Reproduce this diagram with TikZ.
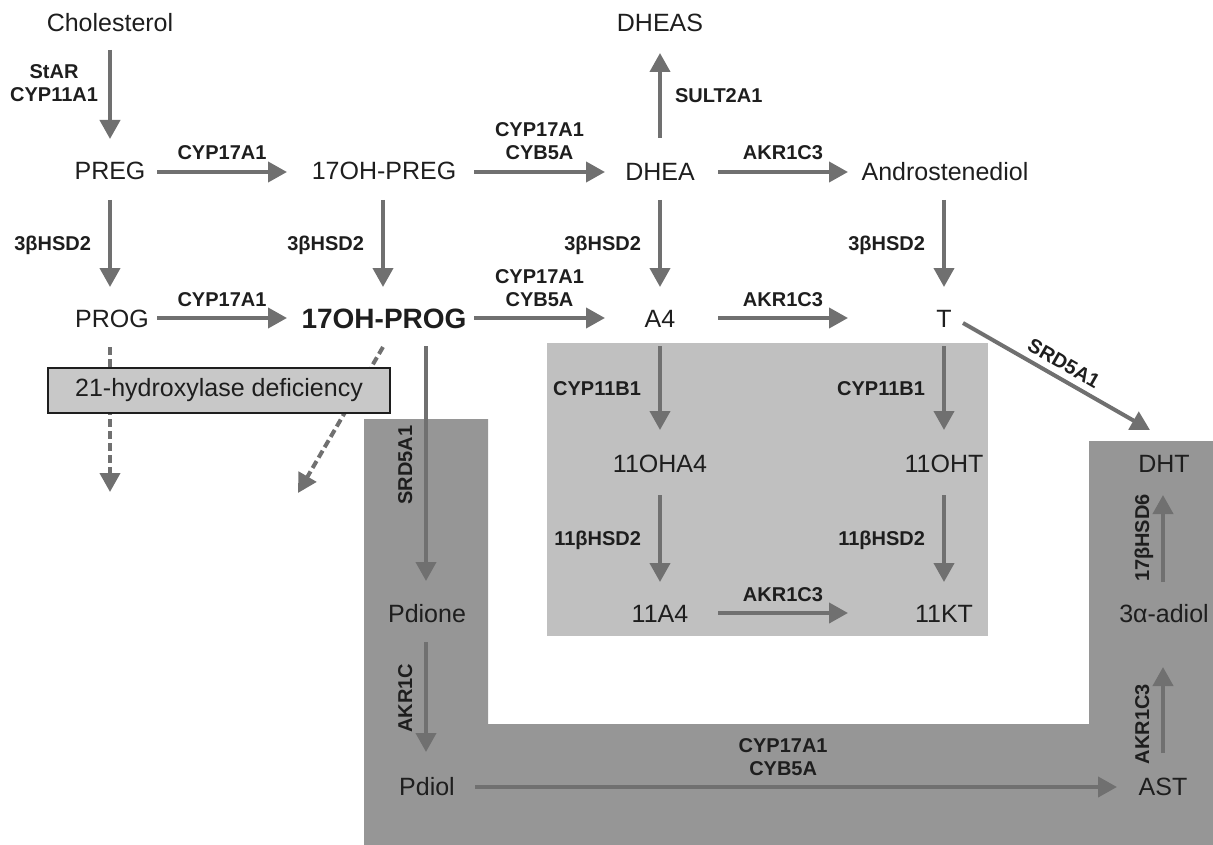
\documentclass[tikz,border=0pt]{standalone}
\usepackage{fontspec}
\setmainfont{Liberation Sans}
\usetikzlibrary{arrows.meta,calc}
\definecolor{arrgray}{HTML}{707070}
\definecolor{txt}{HTML}{1E1E1E}
\definecolor{lightbox}{HTML}{C0C0C0}
\definecolor{darkbox}{HTML}{969696}
\definecolor{defbox}{HTML}{C8C8C8}
\tikzset{
  arr/.style={draw=arrgray, line width=4pt, -{Triangle[length=19pt,width=20pt]}},
  darr/.style={arr, dash pattern=on 8pt off 4pt},
  met/.style={font=\fontsize{25}{30}\selectfont, text=txt, inner sep=0pt, text height=18pt, text depth=0pt},
  metbold/.style={font=\bfseries\fontsize{28}{32}\selectfont, text=txt, inner sep=0pt, text height=20pt, text depth=0pt},
  enz/.style={font=\bfseries\fontsize{20}{23}\selectfont, text=txt, inner sep=0pt, text height=14.3pt, text depth=0pt, align=center},
  hlab/.style={enz, midway, above=10pt},
  vlabl/.style={enz, midway, left=#1},
  vlabr/.style={enz, midway, right=#1},
  rlab/.style={enz, rotate=90},
}
\begin{document}
\begin{tikzpicture}[x=1pt,y=-1pt]
\useasboundingbox (0,0) rectangle (1213,845);
% background regions
\fill[darkbox] (364,419) -- (488,419) -- (488,724) -- (1089,724) -- (1089,441) -- (1213,441) -- (1213,845) -- (364,845) -- cycle;
\fill[lightbox] (547,343) rectangle (988,636);

% metabolites
\node[met] (Chol) at (110,23) {Cholesterol};
\node[met] (PREG) at (110,171) {PREG};
\node[met] (OHPREG) at (384,171) {17OH-PREG};
\node[met] (DHEA) at (660,172) {DHEA};
\node[met] (DHEAS) at (660,23) {DHEAS};
\node[met] (Andro) at (945,172) {Androstenediol};
\node[met] (PROG) at (112,318) {PROG};
\node[metbold] (OHPROG) at (384,318) {17OH-PROG};
\node[met] (A4) at (660,318) {A4};
\node[met] (T) at (944,318) {T};
\node[met] (OHA4) at (660,463) {11OHA4};
\node[met] (A11) at (660,613) {11A4};
\node[met] (OHT) at (944,463) {11OHT};
\node[met] (KT) at (944,613) {11KT};
\node[met] (Pdione) at (427,613) {Pdione};
\node[met] (Pdiol) at (427,786) {Pdiol};
\node[met] (AST) at (1163,786) {AST};
\node[met] (adiol) at (1164,613) {3α-adiol};
\node[met] (DHT) at (1164,463) {DHT};

% vertical arrows
\draw[arr] ($(Chol)+(0,27)$) -- ($(PREG)+(0,-32)$) node[vlabl=10pt] {StAR\\CYP11A1};
\draw[arr] ($(PREG)+(0,29)$) -- ($(PROG)+(-2,-31)$) node[vlabl=17pt] {3βHSD2};
\draw[arr] ($(OHPREG)+(-1,29)$) -- ($(OHPROG)+(-1,-31)$) node[vlabl=17pt] {3βHSD2};
\draw[arr] ($(DHEA)+(0,28)$) -- ($(A4)+(0,-31)$) node[vlabl=17pt] {3βHSD2};
\draw[arr] ($(DHEA)+(0,-34)$) -- ($(DHEAS)+(0,30)$) node[vlabr=13pt] {SULT2A1};
\draw[arr] ($(Andro)+(-1,28)$) -- ($(T)+(0,-31)$) node[vlabl=17pt] {3βHSD2};
\draw[arr] ($(A4)+(0,28)$) -- ($(OHA4)+(0,-33)$) node[vlabl=17pt] {CYP11B1};
\draw[arr] ($(T)+(0,28)$) -- ($(OHT)+(0,-33)$) node[vlabl=17pt] {CYP11B1};
\draw[arr] ($(OHA4)+(0,32)$) -- ($(A11)+(0,-31)$) node[vlabl=17pt] {11βHSD2};
\draw[arr] ($(OHT)+(0,32)$) -- ($(KT)+(0,-31)$) node[vlabl=17pt] {11βHSD2};
\draw[arr] ($(OHPROG)+(42,28)$) -- ($(Pdione)+(-1,-32)$);
\draw[arr] ($(Pdione)+(-1,29)$) -- ($(Pdiol)+(-1,-34)$);
\draw[arr] ($(AST)+(0,-33)$) -- ($(adiol)+(-1,54)$);
\draw[arr] ($(adiol)+(-1,-31)$) -- ($(DHT)+(-1,32)$);

% horizontal arrows
\draw[arr] ($(PREG)+(47,1)$) -- ($(OHPREG)+(-97,1)$) node[hlab] {CYP17A1};
\draw[arr] ($(OHPREG)+(90,1)$) -- ($(DHEA)+(-55,0)$) node[hlab] {CYP17A1\\CYB5A};
\draw[arr] ($(DHEA)+(58,0)$) -- ($(Andro)+(-97,0)$) node[hlab] {AKR1C3};
\draw[arr] ($(PROG)+(45,0)$) -- ($(OHPROG)+(-97,0)$) node[hlab] {CYP17A1};
\draw[arr] ($(OHPROG)+(90,0)$) -- ($(A4)+(-55,0)$) node[hlab] {CYP17A1\\CYB5A};
\draw[arr] ($(A4)+(58,0)$) -- ($(T)+(-96,0)$) node[hlab] {AKR1C3};
\draw[arr] ($(A11)+(58,0)$) -- ($(KT)+(-96,0)$) node[hlab] {AKR1C3};
\draw[arr] ($(Pdiol)+(48,1)$) -- ($(AST)+(-46,1)$) node[enz, pos=0.48, above=10pt] {CYP17A1\\CYB5A};

% diagonal
\draw[arr] ($(T)+(19,5)$) -- ($(DHT)+(-14,-33)$) node[enz, midway, sloped, above=6pt] {SRD5A1};

% rotated labels
\node[rlab] (l1) at (405,465) {SRD5A1};
\node[rlab] (l2) at (405,698) {AKR1C};
\node[rlab] (l3) at (1142,724) {AKR1C3};
\node[rlab] (l4) at (1142,538) {17βHSD6};

% dashed arrows (deficiency)
\coordinate (d1) at (110,492);
\coordinate (d2) at (298,493);
\draw[darr] ($(PROG)+(-2,29)$) -- (d1);
\draw[darr] ($(OHPROG)+(-1,29)$) -- (d2);
\node[draw=txt, line width=2pt, fill=defbox, minimum width=342pt, minimum height=45pt, inner sep=0pt,
      font=\fontsize{25}{30}\selectfont, text=txt] (def) at (219,390.5) {21-hydroxylase deficiency};
\end{tikzpicture}
\end{document}
